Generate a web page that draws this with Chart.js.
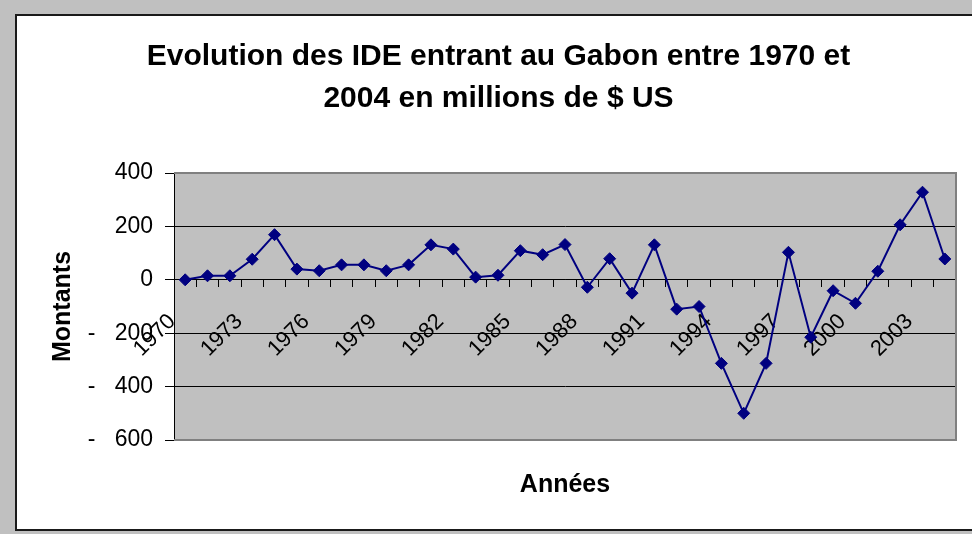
<!DOCTYPE html>
<html>
<head>
<meta charset="utf-8">
<script src="https://cdn.jsdelivr.net/npm/chart.js@4"></script>
<style>
  body { margin: 0; background: #c0c0c0; width: 972px; height: 534px; overflow: hidden; }
  #frame { position: absolute; left: 15px; top: 14px; width: 963px; height: 513px; border: 2px solid #1a1a1a; background: #fff; }
</style>
</head>
<body>
<div id="frame"><canvas id="c"></canvas></div>
<script>
const years = [
  "1970", "1971", "1972", "1973", "1974", "1975", "1976", "1977", "1978", "1979",
  "1980", "1981", "1982", "1983", "1984", "1985", "1986", "1987", "1988", "1989",
  "1990", "1991", "1992", "1993", "1994", "1995", "1996", "1997", "1998", "1999",
  "2000", "2001", "2002", "2003", "2004",
];
// IDE entrants, millions de $ US
const ideValues = [
  0, 15, 15, 77, 169, 40, 34, 56, 56, 34,
  56, 131, 115, 10, 17, 109, 94, 132, -28, 79,
  -50, 131, -110, -100, -313, -500, -313, 103, -215, -41,
  -88, 32, 206, 328, 78,
];
const shownYears = ["1970", "1973", "1976", "1979", "1982", "1985", "1988", "1991", "1994", "1997", "2000", "2003"];
const yTickValues = [400, 200, 0, -200, -400, -600];
const yTickLabels = ["400", "200", "0", "-   200", "-   400", "-   600"];

const FONT = "'Liberation Sans', Arial, sans-serif";

// fond gris et cadre de la zone de tracé, style Excel
const plotArea = {
  id: "plotArea",
  beforeDraw(chart) {
    const { ctx, chartArea: a } = chart;
    ctx.save();
    ctx.fillStyle = "#c0c0c0";
    ctx.fillRect(a.left, a.top, a.right - a.left, a.bottom - a.top);
    ctx.restore();
  },
  beforeDatasetsDraw(chart) {
    const { ctx, chartArea: a } = chart;
    ctx.save();
    ctx.strokeStyle = "#808080";
    ctx.lineWidth = 2;
    ctx.beginPath();
    ctx.moveTo(a.left, a.top);
    ctx.lineTo(a.right, a.top);
    ctx.lineTo(a.right, a.bottom);
    ctx.lineTo(a.left, a.bottom);
    ctx.stroke();
    ctx.restore();
  },
};

new Chart(document.getElementById("c"), {
  type: "line",
  data: {
    labels: years,
    datasets: [{
      label: "IDE",
      data: ideValues,
      borderColor: "#000080",
      backgroundColor: "#000080",
      borderWidth: 2,
      pointStyle: "rectRot",
      pointRadius: 6,
      pointBorderWidth: 1,
      tension: 0,
    }],
  },
  options: {
    responsive: true,
    maintainAspectRatio: false,
    animation: false,
    layout: { padding: { left: 24, right: 24, top: 0, bottom: 0 } },
    plugins: {
      legend: { display: false },
      tooltip: { enabled: false },
      title: {
        display: true,
        text: ["Evolution des IDE entrant au Gabon entre 1970 et", "2004 en millions de $ US"],
        color: "#000",
        font: { family: FONT, size: 30, weight: "bold", lineHeight: 1.4 },
        padding: { top: 20, bottom: 53 },
      },
      subtitle: {
        display: true,
        position: "bottom",
        fullSize: false,
        text: "Années",
        color: "#000",
        font: { family: FONT, size: 25, weight: "bold", lineHeight: 1.2 },
        padding: { top: 30, bottom: 29 },
      },
    },
    scales: {
      x: {
        type: "category",
        position: { y: 0 },
        offset: true,
        afterFit(scale) {
          scale.paddingLeft = 0;
          scale.paddingRight = 0;
        },
        grid: { drawOnChartArea: false, drawTicks: true, tickLength: 7, offset: true, color: "#000", tickColor: "#000" },
        border: { display: true, color: "#000", width: 1 },
        ticks: {
          autoSkip: false,
          minRotation: 45,
          maxRotation: 45,
          padding: 22,
          labelOffset: -13,
          color: "#000",
          font: { family: FONT, size: 22 },
          callback(value, index) {
            const lab = years[index];
            return shownYears.includes(lab) ? lab : "";
          },
        },
      },
      y: {
        min: -600,
        max: 400,
        afterBuildTicks(scale) {
          scale.ticks = yTickValues.map((v) => ({ value: v }));
        },
        afterFit(scale) {
          scale.width = 133;
        },
        grid: {
          drawTicks: true,
          tickLength: 9,
          color: (c) => (c.tick && (c.tick.value === 400 || c.tick.value === -600)) ? "rgba(0,0,0,0)" : "#000",
          tickColor: "#000",
        },
        border: { display: true, color: "#000", width: 1 },
        ticks: {
          padding: 12,
          color: "#000",
          font: { family: FONT, size: 23 },
          callback(value) {
            const i = yTickValues.indexOf(value);
            return i >= 0 ? yTickLabels[i] : "";
          },
        },
        title: {
          display: true,
          text: "Montants",
          color: "#000",
          font: { family: FONT, size: 25, weight: "bold", lineHeight: 1.2 },
          padding: { top: 7, bottom: 0 },
        },
      },
    },
  },
  plugins: [plotArea],
});
</script>
</body>
</html>
